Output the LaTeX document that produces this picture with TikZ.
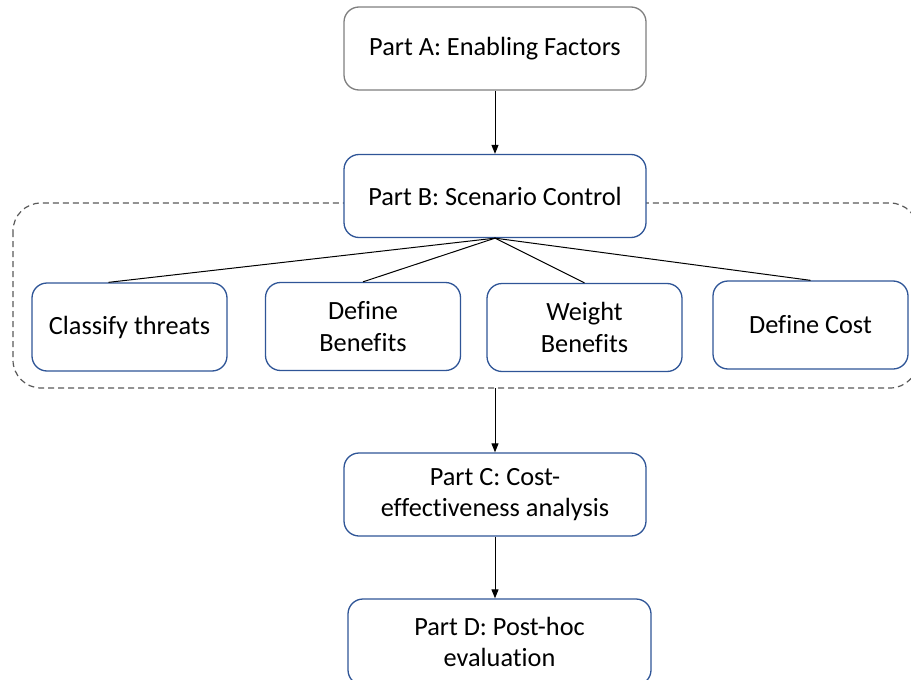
\documentclass[tikz,border=0pt]{standalone}
\usepackage{fontspec}
\setmainfont[Ligatures={NoCommon}]{Carlito}
\usetikzlibrary{arrows.meta}
\definecolor{boxblue}{HTML}{2F5597}
\definecolor{boxgray}{HTML}{7F7F7F}
\definecolor{dashgray}{HTML}{595959}
\tikzset{
  part/.style={draw=boxblue, line width=1.3pt, rounded corners=15pt, fill=white,
    minimum width=302pt, minimum height=83pt, align=center, inner sep=2pt,
    font=\fontsize{26.3}{31.5}\selectfont},
  firstpart/.style={part, draw=boxgray},
  task/.style={draw=boxblue, line width=1.3pt, rounded corners=15pt, fill=white,
    minimum width=195pt, minimum height=88pt, align=center, inner sep=2pt,
    font=\fontsize{26.3}{31.5}\selectfont},
  group/.style={draw=dashgray, line width=1.2pt, dash pattern=on 6pt off 4pt, rounded corners=28pt},
  flow/.style={draw=black, line width=1pt, -{Triangle[length=9pt,width=7pt]}},
  link/.style={draw=black, line width=1pt}
}
\begin{document}
\begin{tikzpicture}[x=1pt, y=-1pt]
  \useasboundingbox (0,0) rectangle (911,680);
  \clip (0,0) rectangle (911,680);

  % dashed frame around the scenario-control tasks
  \draw[group] (13,203) rectangle (918,388);
  \coordinate (grpS) at (495,388);

  % main stages
  \node[firstpart] (pa) at (495,48.5) {Part A: Enabling Factors};
  \node[part] (pb) at (495,196) {Part B: Scenario Control};
  \node[part] (pc) at (495,494.5) {Part C: Cost-\\effectiveness analysis};
  \node[part, minimum width=303pt, minimum height=86pt] (pd) at (499.5,642) {Part D: Post-hoc\\evaluation};

  % scenario-control tasks
  \node[task] (cls) at (129.5,327) {Classify threats};
  \node[task] (dbn) at (363,326.5) {Define\\Benefits};
  \node[task] (wbn) at (584.5,327.5) {Weight\\Benefits};
  \node[task] (dco) at (810.5,325) {Define Cost};

  % connectors
  \draw[flow] (pa) -- (pb);
  \draw[link] (pb.south) -- ([xshift=-21pt]cls.north);
  \draw[link] (pb.south) -- (dbn.north);
  \draw[link] (pb.south) -- (wbn.north);
  \draw[link] (pb.south) -- (dco.north);
  \draw[flow] (grpS) -- (pc.north);
  \draw[flow] (pc.south) -- (pc.south |- pd.north);
\end{tikzpicture}
\end{document}
